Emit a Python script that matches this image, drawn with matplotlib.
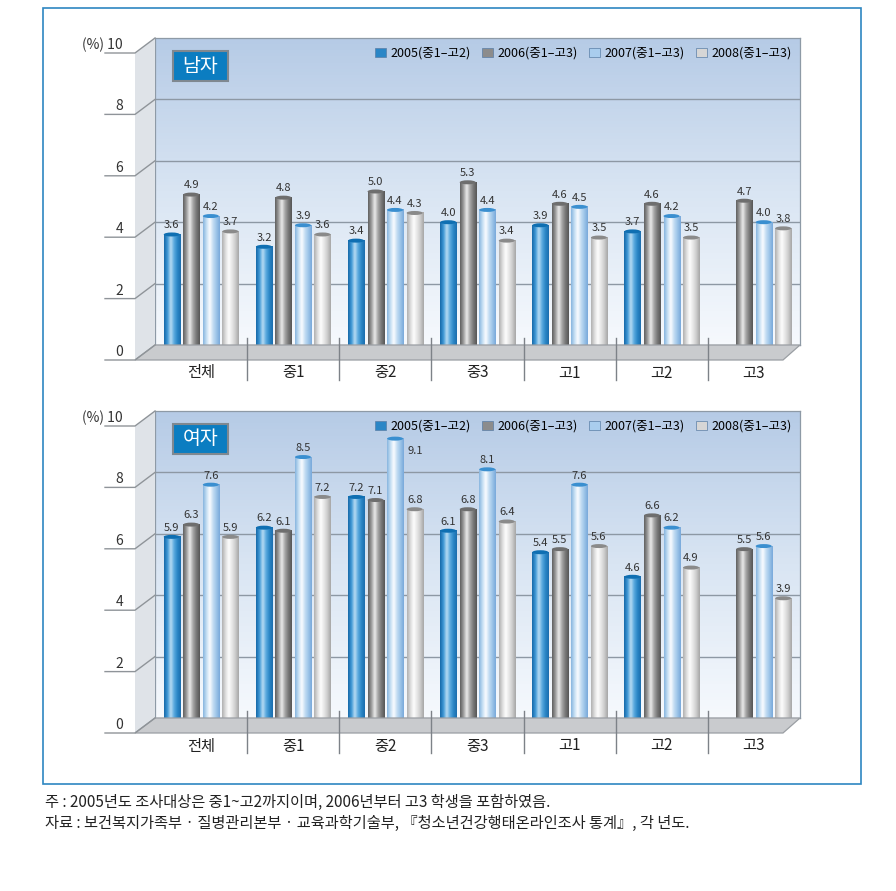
import numpy as np
import matplotlib
matplotlib.use("Agg")
import matplotlib.pyplot as plt
from matplotlib.colors import LinearSegmentedColormap
from matplotlib.patches import Polygon, Rectangle, Ellipse
from matplotlib.lines import Line2D

plt.rcParams["font.family"] = ["Noto Sans CJK KR", "DejaVu Sans"]
plt.rcParams["axes.unicode_minus"] = False

groups = ["전체", "중1", "중2", "중3", "고1", "고2", "고3"]
years = ["2005(중1–고2)", "2006(중1–고3)", "2007(중1–고3)", "2008(중1–고3)"]

male_2005 = [3.6, 3.2, 3.4, 4.0, 3.9, 3.7, np.nan]
male_2006 = [4.9, 4.8, 5.0, 5.3, 4.6, 4.6, 4.7]
male_2007 = [4.2, 3.9, 4.4, 4.4, 4.5, 4.2, 4.0]
male_2008 = [3.7, 3.6, 4.3, 3.4, 3.5, 3.5, 3.8]

female_2005 = [5.9, 6.2, 7.2, 6.1, 5.4, 4.6, np.nan]
female_2006 = [6.3, 6.1, 7.1, 6.8, 5.5, 6.6, 5.5]
female_2007 = [7.6, 8.5, 9.1, 8.1, 7.6, 6.2, 5.6]
female_2008 = [5.9, 7.2, 6.8, 6.4, 5.6, 4.9, 3.9]

yticks = [0, 2, 4, 6, 8, 10]

# cylinder shading per series
grad_colors = [
    ["#1668a8", "#3e98d6", "#b9dcf3", "#5aa9de", "#2a86c6", "#1b6dad"],
    ["#5e5e5e", "#9c9c9c", "#ececec", "#a4a4a4", "#777777", "#565656"],
    ["#86b4de", "#c4def3", "#fbfdff", "#c2dcf2", "#9cc4e8", "#78a9da"],
    ["#b0b0b0", "#dcdcdc", "#fefefe", "#e6e6e6", "#cbcbcb", "#a6a6a6"],
]
rim_colors = ["#0f6fb2", "#6e6e6e", "#3a8fd0", "#8a8a8a"]
legend_colors = ["#2a86c6", "#8c8c8c", "#a9cdee", "#d6d6d6"]
cmaps = [LinearSegmentedColormap.from_list(f"cyl{i}", c) for i, c in enumerate(grad_colors)]

fig = plt.figure(figsize=(8.96, 8.91), dpi=100)
W, H = 896, 891

DX, DY = -20, 15          # depth offset of the front edge, pixels
BW = 0.174                # bar width in group units
OFFS = [-0.318, -0.106, 0.106, 0.318]
PX_PER_UNIT = 307 / 10.0


def to_fig(ax, x, y, dx=0, dy=0):
    X, Y = ax.transData.transform((x, y))
    return fig.transFigure.inverted().transform((X + dx, Y - dy))


def draw_panel(top_px, series, tag):
    ax = fig.add_axes([155 / W, 1 - (top_px + 307) / H, 645 / W, 307 / H])
    ax.set_xlim(-0.5, 6.5)
    ax.set_ylim(0, 10)
    ax.set_xticks([])
    ax.set_yticks([])
    for s in ax.spines.values():
        s.set_color("#8e9aa6")
        s.set_linewidth(0.9)

    # back wall gradient
    wall = np.linspace(1, 0, 100)[:, None]
    wall_cmap = LinearSegmentedColormap.from_list("wall", ["#f6f9fd", "#d9e5f3", "#b6cbe6"])
    ax.imshow(wall, extent=(-0.5, 6.5, 0, 10), aspect="auto", cmap=wall_cmap, zorder=0)
    for t in yticks[1:-1]:
        ax.axhline(t, color="#8d98a4", lw=1.0, zorder=1)

    # bars
    grad = np.linspace(0, 1, 64)[None, :]
    cap_h = 4 / PX_PER_UNIT
    for k, vals in enumerate(series):
        for i, v in enumerate(vals):
            if np.isnan(v):
                continue
            xc = i + OFFS[k]
            ax.imshow(grad, extent=(xc - BW / 2, xc + BW / 2, 0, v), aspect="auto",
                      cmap=cmaps[k], interpolation="bicubic", zorder=3)
            ax.add_patch(Ellipse((xc, v), BW, cap_h, facecolor=rim_colors[k],
                                 edgecolor="none", zorder=4))
            if v > 9.0:
                ax.annotate(f"{v:.1f}", (xc + BW / 2, v), xytext=(9, -9),
                            textcoords="offset points", ha="center", va="center",
                            fontsize=8, color="#333333", zorder=5)
            else:
                ax.annotate(f"{v:.1f}", (xc, v), xytext=(0, 3),
                            textcoords="offset points", ha="center", va="bottom",
                            fontsize=8, color="#333333", zorder=5)
    ax.set_xlim(-0.5, 6.5)
    ax.set_ylim(0, 10)

    # left side wall
    side = [to_fig(ax, -0.5, 10, DX, DY), to_fig(ax, -0.5, 10),
            to_fig(ax, -0.5, 0), to_fig(ax, -0.5, 0, DX, DY)]
    fig.add_artist(Polygon(side, closed=True, transform=fig.transFigure,
                           facecolor="#dfe3e8", edgecolor="none", zorder=0.5))
    # floor
    floor = [to_fig(ax, -0.5, 0), to_fig(ax, 6.5, 0),
             to_fig(ax, 6.5, 0, DX + 3, DY), to_fig(ax, -0.5, 0, DX, DY)]
    fig.add_artist(Polygon(floor, closed=True, transform=fig.transFigure,
                           facecolor="#c9cbce", edgecolor="#9a9ea3", lw=0.9, zorder=2))

    # front tick lines, diagonals and labels
    for t in yticks:
        p_back = to_fig(ax, -0.5, t)
        p_front = to_fig(ax, -0.5, t, DX, DY)
        p_left = to_fig(ax, -0.5, t, DX - 30, DY)
        fig.add_artist(Line2D([p_left[0], p_front[0], p_back[0]],
                              [p_left[1], p_front[1], p_back[1]],
                              transform=fig.transFigure, color="#8f9499", lw=1.0, zorder=3))
        lab = "(%) 10" if t == 10 else str(t)
        lp = to_fig(ax, -0.5, t, DX - 12, DY - 1)
        fig.text(lp[0], lp[1], lab, ha="right", va="bottom", fontsize=10, color="#333333")

    # category labels and separators
    for i, g in enumerate(groups):
        p = to_fig(ax, i, 0, 0, 28)
        fig.text(p[0], p[1], g, ha="center", va="center", fontsize=11, color="#222222")
    for i in range(len(groups) - 1):
        a = to_fig(ax, i + 0.5, 0, 0, -7)
        b = to_fig(ax, i + 0.5, 0, 0, 35)
        fig.add_artist(Line2D([a[0], b[0]], [a[1], b[1]], transform=fig.transFigure,
                              color="#7d8288", lw=1.0, zorder=3))

    # panel tag
    ax.add_patch(Rectangle((18 / 645, 1 - 43 / 307), 55 / 645, 30 / 307, transform=ax.transAxes,
                           facecolor="#0b7dc1", edgecolor="#7f8890", lw=1.5, zorder=6))
    ax.text((18 + 27.5) / 645, 1 - 28 / 307, tag, transform=ax.transAxes, ha="center",
            va="center", fontsize=14, color="white", zorder=7)

    # legend
    handles = [Rectangle((0, 0), 1, 1, facecolor=c, edgecolor="#5a7ea6", lw=0.5) for c in legend_colors]
    ax.legend(handles, years, loc="center right", bbox_to_anchor=(0.995, 0.951), ncol=4,
              frameon=False, fontsize=9, handlelength=0.9, handleheight=0.7,
              handletextpad=0.35, columnspacing=0.9, borderaxespad=0)
    return ax


draw_panel(38, [male_2005, male_2006, male_2007, male_2008], "남자")
draw_panel(411, [female_2005, female_2006, female_2007, female_2008], "여자")

# outer frame
fig.add_artist(Rectangle((43 / W, 1 - 784 / H), (861 - 43) / W, (784 - 8) / H,
                         transform=fig.transFigure, facecolor="none",
                         edgecolor="#2e86c1", lw=1.2, zorder=0.1))

fig.text(45 / W, 1 - 802 / H, "주 : 2005년도 조사대상은 중1~고2까지이며, 2006년부터 고3 학생을 포함하였음.",
         ha="left", va="center", fontsize=11, color="#222222")
fig.text(45 / W, 1 - 823 / H,
         "자료 : 보건복지가족부 · 질병관리본부 · 교육과학기술부, 『청소년건강행태온라인조사 통계』, 각 년도.",
         ha="left", va="center", fontsize=11, color="#222222")

fig.savefig("out.png", dpi=100)
